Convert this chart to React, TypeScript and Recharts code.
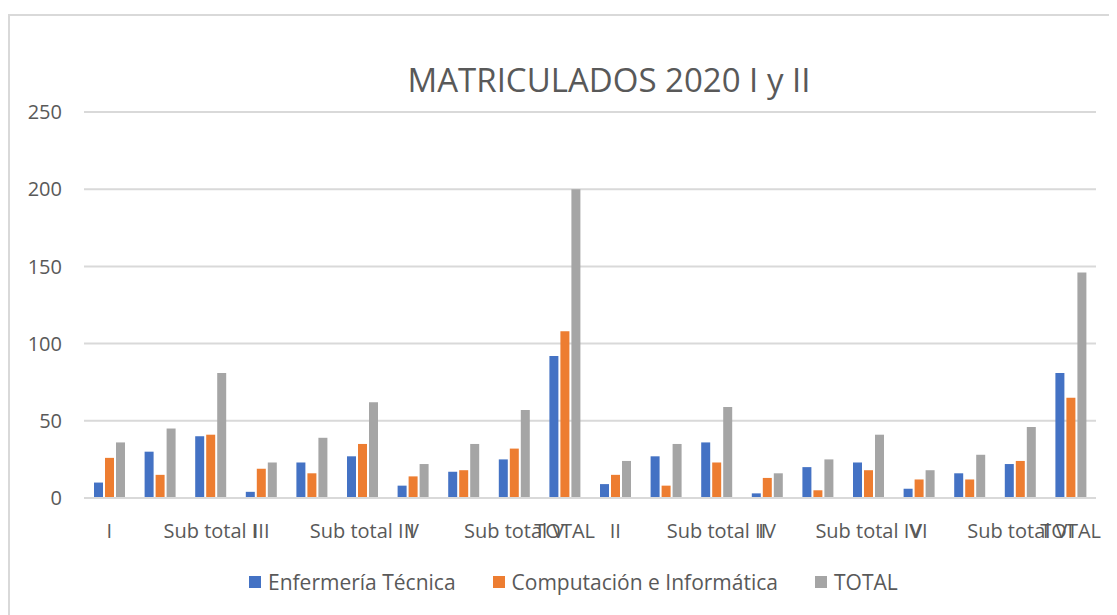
import { BarChart, Bar, XAxis, YAxis, CartesianGrid, Legend } from 'recharts';

const categories = [
  'I', '', 'Sub total I', 'III', '', 'Sub total III', 'V', '', 'Sub total V', 'TOTAL',
  'II', '', 'Sub total II', 'IV', '', 'Sub total IV', 'VI', '', 'Sub total VI', 'TOTAL',
];
const enfermeria = [10, 30, 40, 4, 23, 27, 8, 17, 25, 92, 9, 27, 36, 3, 20, 23, 6, 16, 22, 81];
const computacion = [26, 15, 41, 19, 16, 35, 14, 18, 32, 108, 15, 8, 23, 13, 5, 18, 12, 12, 24, 65];
const total = [36, 45, 81, 23, 39, 62, 22, 35, 57, 200, 24, 35, 59, 16, 25, 41, 18, 28, 46, 146];
const yTicks = [0, 50, 100, 150, 200, 250];

const data = categories.map((name, i) => ({
  name: `${i}|${name}`,
  enf: enfermeria[i],
  comp: computacion[i],
  total: total[i],
}));

const font = '"Open Sans", sans-serif';
const textColor = '#595959';
const seriesOrder = ['enf', 'comp', 'total'];

const XTick = (props: any) => {
  const { x, y, payload } = props;
  const label = String(payload.value).split('|')[1];
  return (
    <text x={x} y={y} dy="0.71em" textAnchor="middle" fill={textColor} fontSize={20} fontFamily={font}>
      {label}
    </text>
  );
};

const LegendContent = (props: any) => {
  const items = [...(props.payload || [])].sort(
    (a: any, b: any) => seriesOrder.indexOf(a.dataKey) - seriesOrder.indexOf(b.dataKey)
  );
  return (
    <div style={{ display: 'flex', alignItems: 'center', fontFamily: font, fontSize: 21, color: textColor }}>
      {items.map((item: any) => (
        <div key={item.dataKey} style={{ display: 'flex', alignItems: 'center', marginRight: 37 }}>
          <span style={{ display: 'inline-block', width: 12, height: 12, background: item.color, marginRight: 7 }} />
          <span>{item.value}</span>
        </div>
      ))}
    </div>
  );
};

export default function App() {
  return (
    <div style={{ position: 'relative', width: 1109, height: 607 }}>
      <div
        style={{
          position: 'absolute',
          left: 0,
          top: 6,
          right: 0,
          bottom: 0,
          borderTop: '2px solid #D9D9D9',
          borderLeft: '2px solid #D9D9D9',
        }}
      />
      <div
        style={{
          position: 'absolute',
          left: 0,
          width: 1202,
          top: 49,
          textAlign: 'center',
          fontFamily: font,
          fontSize: 33,
          color: textColor,
        }}
      >
        MATRICULADOS 2020 I y II
      </div>
      <BarChart
        width={1109}
        height={607}
        data={data}
        margin={{ top: 104, right: 21, left: 0, bottom: 0 }}
        barSize={9}
        barGap={2}
      >
        <CartesianGrid vertical={false} stroke="#D9D9D9" strokeWidth={2} />
        <XAxis
          dataKey="name"
          interval={0}
          tickLine={false}
          tickSize={0}
          tickMargin={26}
          height={117}
          axisLine={{ stroke: '#D9D9D9', strokeWidth: 2 }}
          tick={<XTick />}
        />
        <YAxis
          width={76}
          domain={[0, 250]}
          ticks={yTicks}
          tickLine={false}
          tickSize={0}
          tickMargin={22}
          axisLine={false}
          tick={{ fill: textColor, fontSize: 20, fontFamily: font }}
        />
        <Legend
          verticalAlign="middle"
          align="center"
          layout="horizontal"
          content={<LegendContent />}
          wrapperStyle={{ top: 560, left: 241, width: 'auto' }}
        />
        <Bar dataKey="enf" name="Enfermería Técnica" fill="#4472C4" isAnimationActive={false} />
        <Bar dataKey="comp" name="Computación e Informática" fill="#ED7D31" isAnimationActive={false} />
        <Bar dataKey="total" name="TOTAL" fill="#A5A5A5" isAnimationActive={false} />
      </BarChart>
    </div>
  );
}
